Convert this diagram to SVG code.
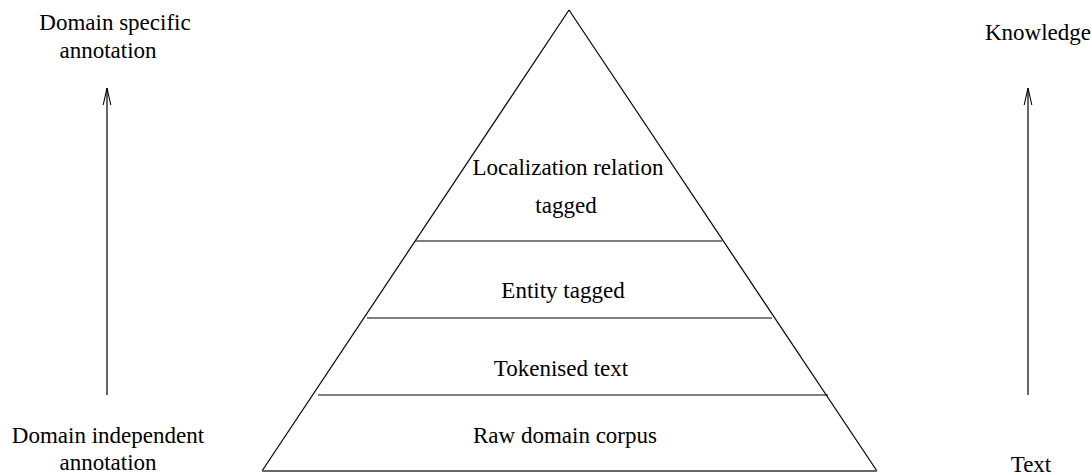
<svg xmlns="http://www.w3.org/2000/svg" width="1092" height="475" viewBox="0 0 1092 475">
  <style>
    .lbl { font-family: "Liberation Serif", "Times New Roman", serif; font-size: 23px; fill: #000; text-anchor: middle; }
    .ln { stroke: #000; stroke-width: 1.2; fill: none; }
  </style>
  <defs>
    <!-- open V arrowhead, tip at the line end -->
    <marker id="arr" markerWidth="20" markerHeight="10" refX="19" refY="5" orient="auto" markerUnits="userSpaceOnUse" viewBox="0 0 20 10">
      <path d="M2,1.2 L19,5 L2,8.8" fill="none" stroke="#000" stroke-width="1.1"/>
    </marker>
  </defs>

  <!-- pyramid outline -->
  <g id="pyramid">
    <path class="ln" d="M569,10 L262,471 M569,10 L877,471"/>
    <line x1="262" y1="471" x2="877" y2="471" stroke="#666" stroke-width="2"/>
  </g>
  <g id="layer-localization">
    <line class="ln" x1="415" y1="241" x2="722" y2="241"/>
    <text class="lbl" x="568" y="175">Localization relation</text>
    <text class="lbl" x="566" y="213">tagged</text>
  </g>
  <g id="layer-entity">
    <line class="ln" x1="367" y1="318" x2="772" y2="318"/>
    <text class="lbl" x="563" y="298">Entity tagged</text>
  </g>
  <g id="layer-tokenised">
    <line class="ln" x1="318" y1="395" x2="828" y2="395"/>
    <text class="lbl" x="561" y="376">Tokenised text</text>
  </g>
  <g id="layer-raw">
    <text class="lbl" x="565" y="443">Raw domain corpus</text>
  </g>

  <!-- side labels -->
  <g id="domain-specific">
    <text class="lbl" x="115" y="30">Domain specific</text>
    <text class="lbl" x="108" y="58">annotation</text>
  </g>
  <g id="domain-independent">
    <text class="lbl" x="108" y="443">Domain independent</text>
    <text class="lbl" x="108" y="470">annotation</text>
  </g>
  <g id="knowledge">
    <text class="lbl" x="1038" y="40">Knowledge</text>
  </g>
  <g id="text-node">
    <text class="lbl" x="1031" y="472">Text</text>
  </g>

  <!-- axis arrows -->
  <g id="connectors">
    <line class="ln" x1="107" y1="395" x2="107" y2="88" marker-end="url(#arr)"/>
    <line class="ln" x1="1028" y1="395" x2="1028" y2="88" marker-end="url(#arr)"/>
  </g>
</svg>
